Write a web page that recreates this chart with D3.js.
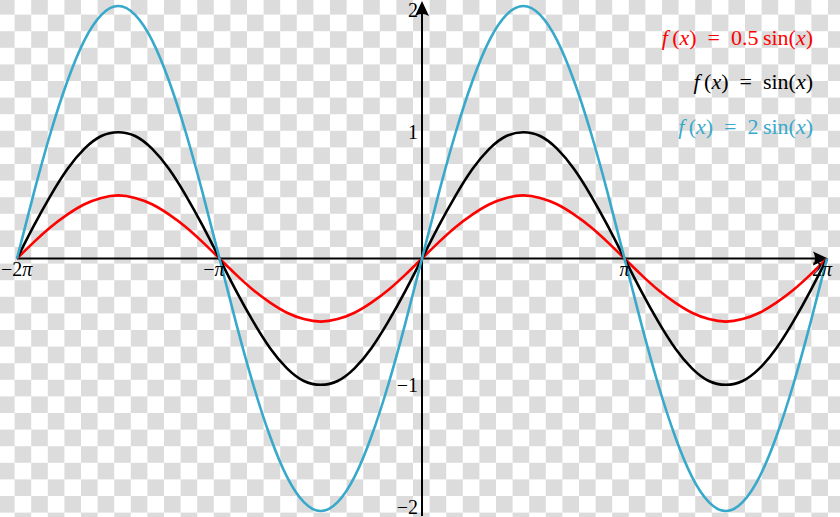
<!DOCTYPE html>
<html>
<head>
<meta charset="utf-8">
<script src="https://cdn.jsdelivr.net/npm/d3@7"></script>
<style>
  html, body { margin: 0; padding: 0; background: #fff; }
  svg { display: block; }
  text { font-family: "Liberation Serif", "Times New Roman", serif; }
</style>
</head>
<body>
<svg id="chart" width="840" height="517"></svg>
<script>
// ---- data ----
// sample positions: multiples of pi/12 from -2pi to 2pi
const xSamplesPi12 = [-24,-23,-22,-21,-20,-19,-18,-17,-16,-15,-14,-13,-12,-11,-10,-9,-8,-7,-6,-5,-4,-3,-2,-1,0,
                      1,2,3,4,5,6,7,8,9,10,11,12,13,14,15,16,17,18,19,20,21,22,23,24];
const redValues = [0,0.13,0.25,0.35,0.43,0.48,0.5,0.48,0.43,0.35,0.25,0.13,0,-0.13,-0.25,-0.35,-0.43,-0.48,-0.5,-0.48,-0.43,-0.35,-0.25,-0.13,0,
                   0.13,0.25,0.35,0.43,0.48,0.5,0.48,0.43,0.35,0.25,0.13,0,-0.13,-0.25,-0.35,-0.43,-0.48,-0.5,-0.48,-0.43,-0.35,-0.25,-0.13,0];
const blackValues = [0,0.26,0.5,0.71,0.87,0.97,1,0.97,0.87,0.71,0.5,0.26,0,-0.26,-0.5,-0.71,-0.87,-0.97,-1,-0.97,-0.87,-0.71,-0.5,-0.26,0,
                     0.26,0.5,0.71,0.87,0.97,1,0.97,0.87,0.71,0.5,0.26,0,-0.26,-0.5,-0.71,-0.87,-0.97,-1,-0.97,-0.87,-0.71,-0.5,-0.26,0];
const blueValues = [0,0.52,1,1.41,1.73,1.93,2,1.93,1.73,1.41,1,0.52,0,-0.52,-1,-1.41,-1.73,-1.93,-2,-1.93,-1.73,-1.41,-1,-0.52,0,
                    0.52,1,1.41,1.73,1.93,2,1.93,1.73,1.41,1,0.52,0,-0.52,-1,-1.41,-1.73,-1.93,-2,-1.93,-1.73,-1.41,-1,-0.52,0];
const xTickValues = [-2*Math.PI, -Math.PI, Math.PI, 2*Math.PI];
const xTickLabels = [["−2", "π"], ["−", "π"], ["", "π"], ["2", "π"]];
const yTickValues = [2, 1, -1, -2];
const yTickLabels = ["2", "1", "−1", "−2"];
const seriesCoef = ["0.5\u2009", "", "2\u2009"];
const seriesColors = ["#ff0000", "#000000", "#38a9ca"];

// ---- setup ----
const W = 840, H = 517;
const svg = d3.select("#chart");

// checkerboard background
const defs = svg.append("defs");
const cs = 16.6;
const pat = defs.append("pattern").attr("id", "checker")
  .attr("patternUnits", "userSpaceOnUse")
  .attr("width", cs * 2).attr("height", cs * 2)
  .attr("x", -2).attr("y", -2);
pat.append("rect").attr("width", cs * 2).attr("height", cs * 2).attr("fill", "#ffffff");
pat.append("rect").attr("x", 0).attr("y", 0).attr("width", cs).attr("height", cs).attr("fill", "#dcdcdc");
pat.append("rect").attr("x", cs).attr("y", cs).attr("width", cs).attr("height", cs).attr("fill", "#dcdcdc");
svg.append("rect").attr("width", W).attr("height", H).attr("fill", "url(#checker)");

const x = d3.scaleLinear().domain([-2 * Math.PI, 2 * Math.PI]).range([17, 827]);
const y = d3.scaleLinear().domain([-2, 2]).range([511, 6]);
const x0 = x(0), y0 = y(0);

const xs = xSamplesPi12.map(k => k * Math.PI / 12);
const series = [redValues, blackValues, blueValues];

// ---- axes ----
const axisG = svg.append("g");
axisG.append("line").attr("x1", x(-2 * Math.PI)).attr("x2", 824).attr("y1", y0).attr("y2", y0)
  .attr("stroke", "#000").attr("stroke-width", 2);
axisG.append("line").attr("x1", x0).attr("x2", x0).attr("y1", 516).attr("y2", 6)
  .attr("stroke", "#000").attr("stroke-width", 2);

function arrowHead(tx, ty, angle) {
  const p = "M0,0 L-15,-7 Q-11,0 -15,7 Z";
  axisG.append("path").attr("d", p)
    .attr("transform", `translate(${tx},${ty}) rotate(${angle})`)
    .attr("fill", "#000");
}
arrowHead(828, y0, 0);
arrowHead(x0, 1, -90);

// ---- curves ----
const line = d3.line().x((d, i) => x(xs[i])).y(d => y(d)).curve(d3.curveNatural);
series.forEach((vals, si) => {
  svg.append("path").datum(vals).attr("d", line)
    .attr("fill", "none").attr("stroke", seriesColors[si])
    .attr("stroke-width", 2.6).attr("stroke-linejoin", "round");
});

// ---- tick labels ----
const xl = svg.append("g");
xTickValues.forEach((v, i) => {
  const t = xl.append("text").attr("y", 276)
    .attr("text-anchor", "end").attr("font-size", 20).attr("fill", "#000");
  t.append("tspan").text(xTickLabels[i][0]);
  t.append("tspan").attr("font-style", "italic").text(xTickLabels[i][1]);
  const w = t.node().getComputedTextLength();
  const right = Math.max(1 + w, Math.min(x(v) + 5, 838));
  t.attr("x", right);
});
const yl = svg.append("g");
yTickValues.forEach((v, i) => {
  yl.append("text").attr("x", x0 - 4).attr("y", Math.max(17, Math.min(514, y(v) + 7)))
    .attr("text-anchor", "end").attr("font-size", 20).attr("fill", "#000")
    .text(yTickLabels[i]);
});

// ---- legend ----
const legendY = [45, 89, 134];
seriesCoef.forEach((c, i) => {
  const t = svg.append("text").attr("x", 813).attr("y", legendY[i])
    .attr("text-anchor", "end").attr("font-size", 22).attr("fill", seriesColors[i]);
  t.append("tspan").attr("font-style", "italic").text("f");
  t.append("tspan").text("\u2009(");
  t.append("tspan").attr("font-style", "italic").text("x");
  t.append("tspan").text(")\u2002=\u2002" + c + "sin(");
  t.append("tspan").attr("font-style", "italic").text("x");
  t.append("tspan").text(")");
});
</script>
</body>
</html>
